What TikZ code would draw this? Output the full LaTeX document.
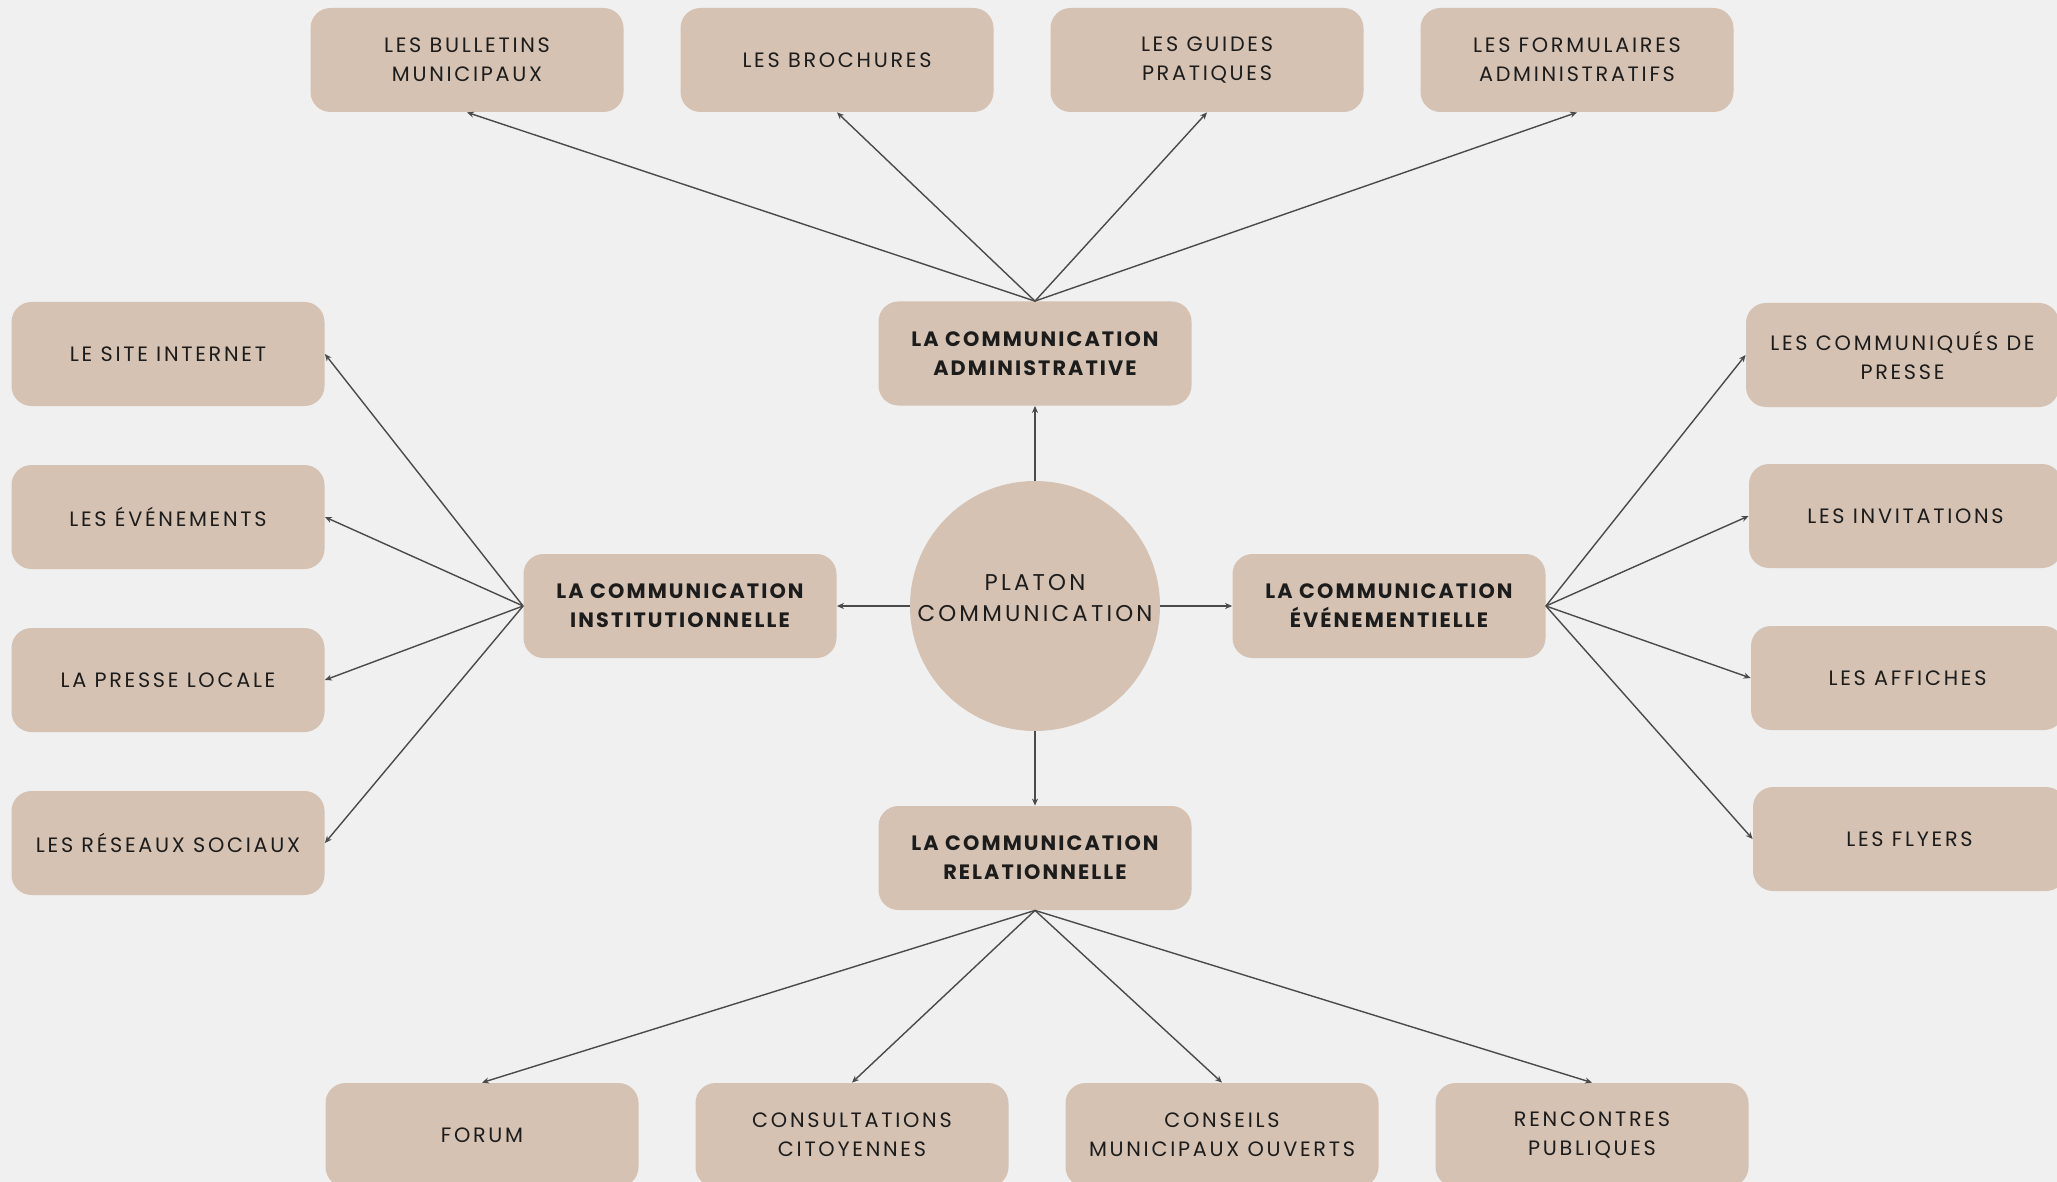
\documentclass[tikz,border=0pt]{standalone}
\usepackage{fontspec}
\setmainfont{Poppins}
\newfontfamily\leaffont{Poppins}[LetterSpace=13]
\newfontfamily\hubfont{Poppins}[LetterSpace=10]
\newfontfamily\corefont{Poppins}[LetterSpace=14]
\usetikzlibrary{arrows.meta}
\definecolor{bgc}{HTML}{F0F0F0}
\definecolor{boxc}{HTML}{D5C2B3}
\definecolor{txtc}{HTML}{1C1C1C}
\definecolor{linec}{HTML}{4A4A4A}
\tikzset{
  leaf/.style={fill=boxc, rounded corners=10pt, minimum width=156.5pt, minimum height=52pt,
    inner sep=0pt, align=center, text=txtc, font=\leaffont\fontsize{10.4}{14.5}\selectfont},
  hub/.style={leaf, font=\hubfont\fontsize{10.4}{14.5}\selectfont\bfseries},
  core/.style={circle, fill=boxc, minimum size=125pt, inner sep=0pt, align=center, text=txtc,
    font=\corefont\fontsize{11.4}{15.5}\selectfont},
  link/.style={draw=linec, line width=0.7pt, -{Stealth[length=3.5pt,width=3pt]}}
}
\begin{document}
\begin{tikzpicture}[x=0.5pt,y=-0.5pt]
\fill[bgc] (0,0) rectangle (2057,1182);
\useasboundingbox (0,0) rectangle (2057,1182);
\clip (0,0) rectangle (2057,1182);
% center
\node[core] (c) at (1035,606) {};
\node[text=txtc, align=center, font=\corefont\fontsize{11.4}{15.5}\selectfont] (ct) at (1035,598) {PLATON\\COMMUNICATION};
% hubs
\node[hub] (adm) at (1035,353.5) {LA COMMUNICATION\\ADMINISTRATIVE};
\node[hub] (ins) at (680,606) {LA COMMUNICATION\\INSTITUTIONNELLE};
\node[hub] (evt) at (1389,606) {LA COMMUNICATION\\ÉVÉNEMENTIELLE};
\node[hub] (rel) at (1035,858) {LA COMMUNICATION\\RELATIONNELLE};
% top
\node[leaf] (t1) at (467,60) {LES BULLETINS\\MUNICIPAUX};
\node[leaf] (t2) at (837,60) {LES BROCHURES};
\node[leaf] (t3) at (1207,60) {LES GUIDES\\PRATIQUES};
\node[leaf] (t4) at (1577,60) {LES FORMULAIRES\\ADMINISTRATIFS};
% left
\node[leaf] (l1) at (168,354) {LE SITE INTERNET};
\node[leaf] (l2) at (168,517) {LES ÉVÉNEMENTS};
\node[leaf] (l3) at (168,680) {LA PRESSE LOCALE};
\node[leaf] (l4) at (168,843) {LES RÉSEAUX SOCIAUX};
% right
\node[leaf] (r1) at (1902.5,355) {LES COMMUNIQUÉS DE\\PRESSE};
\node[leaf] (r2) at (1905.5,516) {LES INVITATIONS};
\node[leaf] (r3) at (1907.5,678) {LES AFFICHES};
\node[leaf] (r4) at (1909.5,839) {LES FLYERS};
% bottom
\node[leaf] (b1) at (482,1135) {FORUM};
\node[leaf] (b2) at (852,1135) {CONSULTATIONS\\CITOYENNES};
\node[leaf] (b3) at (1222,1135) {CONSEILS\\MUNICIPAUX OUVERTS};
\node[leaf] (b4) at (1592,1135) {RENCONTRES\\PUBLIQUES};
% links from center
\draw[link] (c.north) -- (adm.south);
\draw[link] (c.west) -- (ins.east);
\draw[link] (c.east) -- (evt.west);
\draw[link] (c.south) -- (rel.north);
% outer links
\foreach \n in {t1,t2,t3,t4} \draw[link] (adm.north) -- (\n.south);
\foreach \n in {l1,l2,l3,l4} \draw[link] (ins.west) -- (\n.east);
\foreach \n in {r1,r2,r3,r4} \draw[link] (evt.east) -- (\n.west);
\foreach \n in {b1,b2,b3,b4} \draw[link] (rel.south) -- (\n.north);
\end{tikzpicture}
\end{document}
